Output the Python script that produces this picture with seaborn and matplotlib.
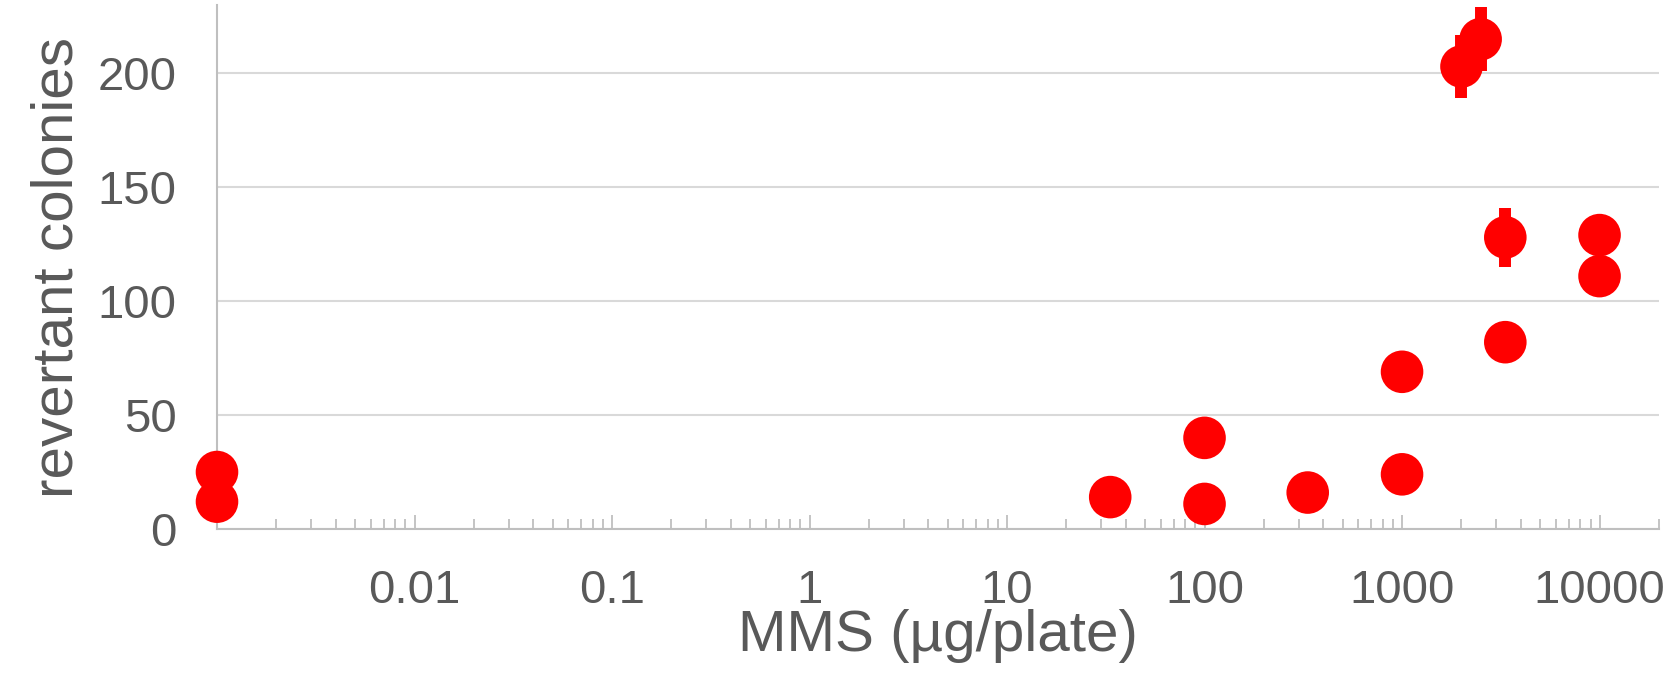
import matplotlib
matplotlib.use("Agg")
import matplotlib.pyplot as plt
import matplotlib.ticker as mticker
import numpy as np
import pandas as pd
import seaborn as sns

# Data
dose = [0.001, 0.001, 33.3, 100, 100, 333, 1000, 1000, 2000, 2500, 3333, 3333, 10000, 10000]
colonies = [25, 12, 14, 40, 11, 16, 69, 24, 203, 215, 128, 82, 129, 111]
error = [0, 0, 0, 0, 0, 0, 0, 0, 14, 14, 13, 0, 0, 0]
xtick_values = [0.01, 0.1, 1, 10, 100, 1000, 10000]
xtick_labels = ["0.01", "0.1", "1", "10", "100", "1000", "10000"]
ytick_values = [0, 50, 100, 150, 200]

df = pd.DataFrame({"dose": dose, "colonies": colonies, "error": error})

sns.set_theme(style="white")
plt.rcParams["font.family"] = ["Liberation Sans", "DejaVu Sans"]

TEXT = "#595959"
GRID = "#d9d9d9"
AXIS = "#bfbfbf"

fig = plt.figure(figsize=(16.72, 6.92), dpi=100)
ax = fig.add_axes([217 / 1672, 1 - 529 / 692, (1659 - 217) / 1672, (529 - 5) / 692])

ax.set_xscale("log")
ax.set_xlim(0.001, 20000)
ax.set_ylim(0, 230)

# error bars (thick, no caps)
err_df = df[df["error"] > 0]
ax.errorbar(err_df["dose"], err_df["colonies"], yerr=err_df["error"], fmt="none",
            ecolor="#ff0000", elinewidth=8.6, capsize=0, zorder=3, clip_on=False)

sns.scatterplot(data=df, x="dose", y="colonies", ax=ax, color="#ff0000", s=940,
                edgecolor="none", linewidth=0, zorder=4, clip_on=False, legend=False)

# grid and spines
ax.set_yticks(ytick_values)
ax.yaxis.grid(True, color=GRID, linewidth=1.5)
ax.xaxis.grid(False)
ax.set_axisbelow(True)
for side in ["top", "right"]:
    ax.spines[side].set_visible(False)
for side in ["left", "bottom"]:
    ax.spines[side].set_color(AXIS)
    ax.spines[side].set_linewidth(1.5)

ax.set_xticks(xtick_values)
ax.set_xticklabels(xtick_labels)
ax.xaxis.set_minor_locator(mticker.LogLocator(base=10, subs=np.arange(2, 10), numticks=20))
ax.xaxis.set_minor_formatter(mticker.NullFormatter())
ax.tick_params(axis="x", which="major", direction="in", length=10, width=1.3, color=AXIS,
               labelsize=34, labelcolor=TEXT, pad=29, bottom=True)
ax.tick_params(axis="x", which="minor", direction="in", length=7, width=1.3, color=AXIS, bottom=True)
ax.tick_params(axis="y", which="both", length=0, labelsize=34, labelcolor=TEXT, pad=29)

ax.set_xlabel("MMS (µg/plate)", fontsize=42, color=TEXT)
ax.set_ylabel("revertant colonies", fontsize=42, color=TEXT)
ax.xaxis.set_label_coords(0.5, (529 - 636) / 524)
ax.xaxis.label.set_va("center")
ax.yaxis.set_label_coords((58 - 217) / 1442, 0.5)
ax.yaxis.label.set_va("center")

fig.savefig("out.png", dpi=100)
